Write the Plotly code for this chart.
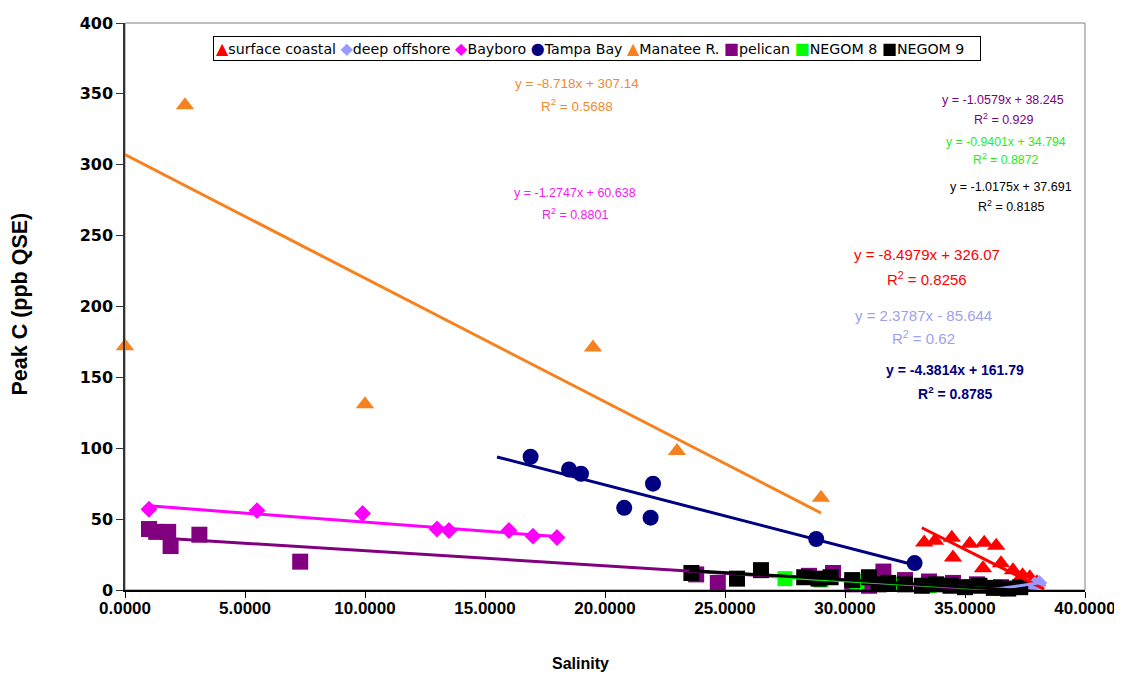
import numpy as np
import plotly.graph_objects as go

# ---------------- data ----------------
series_names = ["surface coastal", "deep offshore", "Bayboro", "Tampa Bay",
                "Manatee R.", "pelican", "NEGOM 8", "NEGOM 9"]

surface_x = [33.3, 33.75, 34.45, 34.5, 35.2, 35.8, 36.3, 35.75, 36.5, 37.0, 37.4, 37.7, 38.0]
surface_y = [33.5, 34.7, 36.8, 22.9, 32.6, 33.3, 31.2, 15.3, 18.8, 13.9, 10.4, 9.0, 5.5]

deep_x = [36.6, 37.0, 37.3, 37.6, 37.9, 38.1]
deep_y = [0.5, 1.5, 2.5, 3.0, 4.0, 5.0]

bayboro_x = [1.0, 5.5, 9.9, 13.0, 13.5, 16.0, 17.0, 18.0]
bayboro_y = [57, 56, 54, 43, 42, 42, 38, 37]

tampa_x = [16.9, 18.5, 19.0, 20.8, 22.0, 21.9, 28.8, 32.9]
tampa_y = [94, 85, 82, 58, 75, 51, 36, 19]

manatee_x = [0.0, 2.5, 10.0, 19.5, 23.0, 29.0]
manatee_y = [172, 342, 131, 171, 98, 65]

pelican_x = [1.0, 1.3, 1.8, 1.9, 3.1, 7.3, 23.8, 24.7, 28.5, 29.5, 30.3, 31.0,
             31.6, 32.5, 33.5, 34.5, 35.5, 36.5]
pelican_y = [43, 41, 41, 31, 39, 20, 11, 5, 10, 12, 4, 3, 13, 7, 6, 5, 4, 2]

negom8_x = [27.5, 29.0, 30.5, 32.0, 33.5, 35.0, 36.5]
negom8_y = [8, 7, 6, 4, 3, 2, 1]

negom9_x = [23.6, 25.5, 26.5, 28.3, 28.9, 29.4, 30.3, 31.0, 31.4, 31.8, 32.5, 33.2, 33.8,
            34.4, 35.0, 35.6, 36.2, 36.8, 37.3]
negom9_y = [12, 8, 14, 9, 8, 9, 7, 9, 4, 5, 4, 3, 4, 3, 2, 3, 1.5, 1, 2]

# linear trendlines (slope, intercept, x-range) as printed on the chart
trend_slope = [-8.4979, 2.3787, -1.2747, -4.3814, -8.718, -1.0579, -0.9401, -1.0175]
trend_intercept = [326.07, -85.644, 60.638, 161.79, 307.14, 38.245, 34.794, 37.691]
trend_xmin = [33.2, 36.0, 1.0, 15.5, 0.0, 1.0, 27.0, 23.5]
trend_xmax = [38.3, 38.2, 18.0, 32.9, 29.0, 36.0, 36.5, 38.0]
r_squared = ["0.8256", "0.62", "0.8801", "0.8785", "0.5688", "0.929", "0.8872", "0.8185"]
equations = ["y = -8.4979x + 326.07", "y = 2.3787x - 85.644", "y = -1.2747x + 60.638",
             "y = -4.3814x + 161.79", "y = -8.718x + 307.14", "y = -1.0579x + 38.245",
             "y = -0.9401x + 34.794", "y = -1.0175x + 37.691"]

x_ticks = [0, 5, 10, 15, 20, 25, 30, 35, 40]
y_ticks = [0, 50, 100, 150, 200, 250, 300, 350, 400]

# ---------------- styles ----------------
colors = ["#FF0000", "#9999FF", "#FF00FF", "#000080", "#F5821F", "#800080", "#00FF00", "#000000"]
text_colors = ["#FF0000", "#A0A0F0", "#F020F0", "#000080", "#F08A30", "#800080", "#22EE22", "#000000"]
symbols = ["triangle-up", "diamond", "diamond", "circle", "triangle-up", "square", "square", "square"]
sizes = [16, 12, 13, 16, 16, 16, 15, 16]
legend_glyph = ["\u25B2", "\u25C6", "\u25C6", "\u25CF", "\u25B2", "\u25A0", "\u25A0", "\u25A0"]
eq_pos = [(33.4, 237), (33.25, 194), (18.75, 280), (34.6, 155),
          (18.85, 357), (36.6, 346), (36.7, 316), (36.9, 284)]
r2_dy = [-17, -16, -15, -16, -15, -14, -12, -13]
eq_size = [15, 15, 12.5, 14, 13.5, 12.5, 12.3, 12.5]
eq_bold = [False, False, False, True, False, False, False, False]

xs = [surface_x, deep_x, bayboro_x, tampa_x, manatee_x, pelican_x, negom8_x, negom9_x]
ys = [surface_y, deep_y, bayboro_y, tampa_y, manatee_y, pelican_y, negom8_y, negom9_y]

fig = go.Figure()

for i, name in enumerate(series_names):
    fig.add_trace(go.Scatter(
        x=xs[i], y=ys[i], mode="markers", name=name, showlegend=False,
        marker=dict(symbol=symbols[i], size=sizes[i], color=colors[i], line=dict(width=0)),
        cliponaxis=False,
    ))

for i, name in enumerate(series_names):
    tx = np.array([trend_xmin[i], trend_xmax[i]])
    ty = trend_slope[i] * tx + trend_intercept[i]
    fig.add_trace(go.Scatter(
        x=tx, y=ty, mode="lines", showlegend=False, hoverinfo="skip",
        line=dict(color=colors[i], width=3), cliponaxis=False,
    ))

for i in range(len(series_names)):
    fam = "Liberation Sans"
    eq = equations[i]
    r2 = "R<sup>2</sup> = " + r_squared[i]
    if eq_bold[i]:
        eq = "<b>" + eq + "</b>"
        r2 = "<b>" + r2 + "</b>"
    x0, y0 = eq_pos[i]
    fig.add_annotation(x=x0, y=y0, xref="x", yref="y", text=eq, showarrow=False,
                       font=dict(family=fam, size=eq_size[i], color=text_colors[i]))
    fig.add_annotation(x=x0, y=y0 + r2_dy[i], xref="x", yref="y", text=r2, showarrow=False,
                       font=dict(family=fam, size=eq_size[i], color=text_colors[i]))

# legend as one boxed annotation
parts = []
for i, name in enumerate(series_names):
    parts.append("<span style='color:%s;font-size:16px'>%s</span>%s"
                 % (colors[i], legend_glyph[i], name.replace(" ", "&nbsp;")))
legend_text = "&nbsp;".join(parts) + "&nbsp;&nbsp;&nbsp;"
fig.add_annotation(x=0.0917, y=0.955, xref="paper", yref="paper", xanchor="left", yanchor="middle",
                   text=legend_text, showarrow=False, align="left",
                   font=dict(family="DejaVu Sans", size=14.2, color="black"),
                   bordercolor="black", borderwidth=1, borderpad=2, bgcolor="white")

# axis titles
fig.add_annotation(x=0.474, y=-0.130, xref="paper", yref="paper", xanchor="center", yanchor="middle",
                   text="<b>Salinity</b>", showarrow=False,
                   font=dict(family="Liberation Sans", size=16, color="black"))
fig.add_annotation(x=-0.1095, y=0.505, xref="paper", yref="paper", xanchor="center", yanchor="middle",
                   text="<b>Peak C (ppb QSE)</b>", textangle=-90, showarrow=False,
                   font=dict(family="Liberation Sans", size=21.5, color="black"))

fig.add_shape(type="rect", xref="paper", yref="paper", x0=0, y0=0, x1=1, y1=1,
              line=dict(color="#808080", width=1), layer="below")

# the page body has an 8px margin: compensate so the plot area lands at 125..1085 / 14..590
fig.update_layout(
    width=1122, height=681,
    margin=dict(l=117, r=45, t=6, b=99),
    paper_bgcolor="white", plot_bgcolor="white",
    showlegend=False,
    xaxis=dict(range=[0, 40], tickvals=x_ticks, tickformat=".4f", showgrid=False, zeroline=False,
               showline=True, linecolor="black", linewidth=1.5, ticks="outside", ticklen=6,
               tickcolor="black", ticklabelstandoff=-4, ticklabeloverflow="allow",
               tickfont=dict(family="Liberation Sans", size=17, color="black", weight="bold")),
    yaxis=dict(range=[0, 400], tickvals=y_ticks, showgrid=False, zeroline=False,
               showline=True, linecolor="#333333", linewidth=1.5, ticks="outside", ticklen=7,
               tickcolor="#333333", ticklabeloverflow="allow",
               tickfont=dict(family="DejaVu Sans", size=16, color="black", weight="bold")),
)

fig.write_html("out.html")
